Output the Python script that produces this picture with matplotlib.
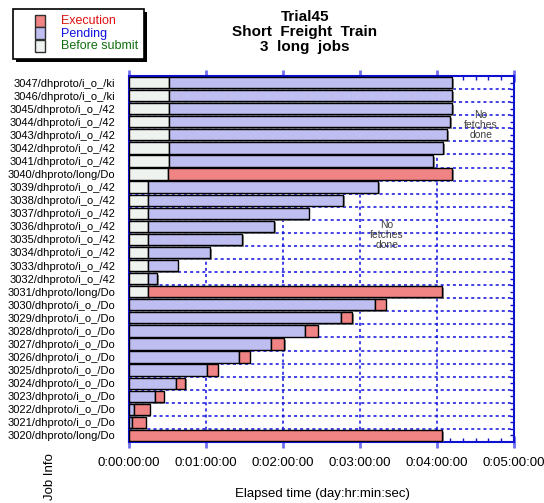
"""Trial45 job timeline: before submit / pending / execution per job."""

import matplotlib
matplotlib.use("Agg")
import matplotlib.pyplot as plt
from matplotlib.patches import Rectangle
from matplotlib.ticker import FuncFormatter, MultipleLocator, FixedLocator
import matplotlib.patheffects as pe

plt.rcParams["font.family"] = ["Liberation Sans", "DejaVu Sans"]

W, H = 544, 503

# jobs from bottom (3020) to top (3047)
jobs = (["3020/dhproto/long/Do"]
        + [f"{n}/dhproto/i_o_/Do" for n in range(3021, 3031)]
        + ["3031/dhproto/long/Do"]
        + [f"{n}/dhproto/i_o_/42" for n in range(3032, 3040)]
        + ["3040/dhproto/long/Do"]
        + [f"{n}/dhproto/i_o_/42" for n in range(3041, 3046)]
        + [f"{n}/dhproto/i_o_/ki" for n in range(3046, 3048)])

# times in minutes since start
submit_at = [0, 0, 0, 0, 0, 0, 0, 0, 0, 0, 0,
             15, 15, 15, 15, 15, 15, 15, 15, 15,
             30, 31, 31, 31, 31, 31, 31, 31]
start_at = [0, 2.5, 4, 20, 37, 61, 86, 111, 137, 165, 192,
            15, 22, 38, 63, 88, 113, 140, 167, 194,
            30, 237, 245, 248, 250, 252, 252, 252]
end_at = [244, 13, 16, 27, 44, 69, 94, 121, 147, 174, 200,
          244, 22, 38, 63, 88, 113, 140, 167, 194,
          252, 237, 245, 248, 250, 252, 252, 252]

notes = [(274, 23.75), (201, 15.3)]

legend_labels = ["Execution", "Pending", "Before submit"]
legend_text_colors = ["#E01010", "#1010E0", "#107010"]

c_exec = "#F08484"
c_pend = "#BEBEF0"
c_before = "#EFF3EF"
grid_blue = "#1010E0"


def px(x, y):
    """pixel position (from top-left) to figure fraction"""
    return x / W, 1 - y / H


fig = plt.figure(figsize=(W / 100, H / 100), dpi=100)
ax = fig.add_axes([129 / W, 1 - 442 / H, 385 / W, 366 / H])

ys = list(range(len(jobs)))
before_w = submit_at
pend_w = [s - b for s, b in zip(start_at, submit_at)]
exec_w = [e - s for e, s in zip(end_at, start_at)]

shadow = [pe.SimplePatchShadow(offset=(1.2, -1.2), shadow_rgbFace="#707070", alpha=0.8),
          pe.Normal()]
h = 0.86
for widths, lefts, col in [(before_w, [0] * len(ys), c_before),
                           (pend_w, submit_at, c_pend),
                           (exec_w, start_at, c_exec)]:
    for y, w, l in zip(ys, widths, lefts):
        if w <= 0:
            continue
        ax.barh(y, w, left=l, height=h, color=col, edgecolor="black",
                linewidth=1.0, path_effects=shadow, zorder=3)

for x, y in notes:
    ax.text(x, y, "No\nfetches\ndone", ha="center", va="center",
            fontsize=7.5, color="#404040", linespacing=1.0, zorder=4)

ax.set_xlim(0, 300)
ax.set_ylim(-0.5, len(jobs) - 0.5)
ax.set_yticks(ys)
ax.set_yticklabels(jobs, fontsize=8.0)
ax.yaxis.set_minor_locator(FixedLocator([y + 0.5 for y in ys[:-1]]))
ax.xaxis.set_major_locator(MultipleLocator(60))
ax.xaxis.set_minor_locator(MultipleLocator(10))
ax.xaxis.set_major_formatter(FuncFormatter(
    lambda v, p: "0:%02d:%02d:00" % (int(v) // 60, int(v) % 60)))
ax.tick_params(axis="x", labelsize=9.5, pad=7)

ax.set_axisbelow(True)
ax.grid(True, axis="x", which="major", color=grid_blue, linestyle=(0, (2, 2)), linewidth=1.1)
ax.grid(True, axis="y", which="minor", color=grid_blue, linestyle=(0, (2, 2)), linewidth=1.1)

for s in ax.spines.values():
    s.set_color("#1010D0")
    s.set_linewidth(1.5)
ax.tick_params(axis="x", which="major", direction="inout", length=8, width=2,
               color="#7070F0", top=True, bottom=True)
ax.tick_params(axis="x", which="minor", direction="in", length=3, width=1,
               color="#1010D0", top=True, bottom=True)
ax.tick_params(axis="y", which="major", direction="in", length=3, width=1,
               color="#1010D0", left=True, right=True, pad=10)
ax.tick_params(axis="y", which="minor", direction="in", length=3, width=1,
               color="#1010D0", left=False, right=True)

fig.text(*px(322, 494), "Elapsed time (day:hr:min:sec)", fontsize=9.5,
         ha="center", va="center")
fig.text(*px(50, 477), "Job Info", rotation=90, fontsize=9.5,
         ha="center", va="center")

fig.text(*px(305, 32), "Trial45\nShort  Freight  Train\n3  long  jobs",
         ha="center", va="center", fontsize=11, fontweight="bold", linespacing=1.08)

# legend box drawn by hand, with drop shadow
x0, y0 = px(13, 59)
x1, y1 = px(144, 9)
fig.patches.append(Rectangle((x0 + 3 / W, y0 - 3 / H), x1 - x0, y1 - y0,
                             transform=fig.transFigure, facecolor="black",
                             edgecolor="none", zorder=1))
fig.patches.append(Rectangle((x0, y0), x1 - x0, y1 - y0, transform=fig.transFigure,
                             facecolor="white", edgecolor="black", linewidth=1.2, zorder=2))
for i, (lab, fc, tc) in enumerate(zip(legend_labels, [c_exec, c_pend, c_before],
                                      legend_text_colors)):
    top = 15 + 12.5 * i
    sx, sy = px(35, top + 11.5)
    fig.patches.append(Rectangle((sx, sy), 10 / W, 11.5 / H, transform=fig.transFigure,
                                 facecolor=fc, edgecolor="#303030", linewidth=1.0, zorder=3))
    fig.text(*px(61, top + 6), lab, color=tc, fontsize=9, ha="left", va="center",
             zorder=4)

fig.savefig("out.png", dpi=100)
